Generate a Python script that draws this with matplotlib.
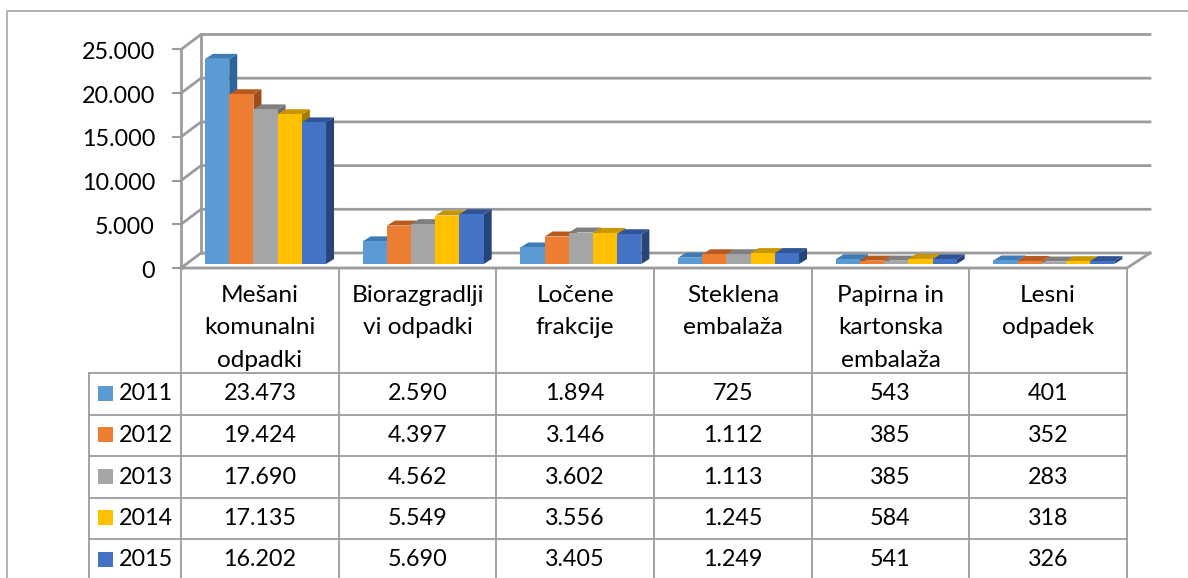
import numpy as np
import matplotlib
matplotlib.use("Agg")
import matplotlib.pyplot as plt
from matplotlib.patches import Rectangle

plt.rcParams['font.family'] = ['Lato', 'DejaVu Sans']

# Data
categories = ['Mešani\nkomunalni\nodpadki', 'Biorazgradlji\nvi odpadki', 'Ločene\nfrakcije',
              'Steklena\nembalaža', 'Papirna in\nkartonska\nembalaža', 'Lesni\nodpadek']
years = ['2011', '2012', '2013', '2014', '2015']
v2011 = [23473, 2590, 1894, 725, 543, 401]
v2012 = [19424, 4397, 3146, 1112, 385, 352]
v2013 = [17690, 4562, 3602, 1113, 385, 283]
v2014 = [17135, 5549, 3556, 1245, 584, 318]
v2015 = [16202, 5690, 3405, 1249, 541, 326]
yticks = [0, 5000, 10000, 15000, 20000, 25000]

series = [v2011, v2012, v2013, v2014, v2015]
front = ['#5b9bd5', '#ed7d31', '#a5a5a5', '#ffc000', '#4472c4']
top = ['#3f7cb5', '#b85a1e', '#7f7f7f', '#c79600', '#2f5597']
side = ['#2f6497', '#9c4d1a', '#6e6e6e', '#a67c00', '#264478']
grey = '#9c9c9c'

W, H = 1188, 578
fig = plt.figure(figsize=(W / 100, H / 100), dpi=100)

# axes: x = category index, y = value, placed on the front plane of the chart
x0, x1 = 181, 1127
y0, ytop = 268, 49.5
ax = fig.add_axes([x0 / W, 1 - y0 / H, (x1 - x0) / W, (y0 - ytop) / H])
ax.set_xlim(0, 6)
ax.set_ylim(0, 25000)
ax.axis('off')

px = 6 / (x1 - x0)               # one pixel in category units
py = 25000 / (y0 - ytop)         # one pixel in value units
depth_x, depth_y = 20 * px, 15 * py
right_x = 6 + 23 * px

# back wall and floor
for t in yticks:
    ax.plot([0, depth_x, right_x], [t, t + depth_y, t + depth_y], color=grey, lw=2,
            clip_on=False, solid_joinstyle='miter')
    ax.plot([-8 * px, 0], [t, t], color=grey, lw=1.5, clip_on=False)
ax.plot([0, 6, right_x], [0, 0, depth_y], color=grey, lw=2, clip_on=False)
ax.plot([0, 0], [0, 25000], color=grey, lw=2, clip_on=False)
ax.plot([depth_x, depth_x], [depth_y, 25000 + depth_y], color=grey, lw=2, clip_on=False)

for t in yticks:
    ax.text(-26 * px, t - 3 * py, f'{t:,}'.replace(',', '.'), ha='right', va='center',
            fontsize=16.8, color='black', clip_on=False)

# 3D columns, sitting slightly behind the front edge
bar_w = 24.2 * px
lift_x, lift_y = 5.7 * px, 4 * py
side_x, side_y = 8 * px, 5 * py
for c in range(len(categories)):
    for s in range(len(series)):
        v = series[s][c]
        left = c + 0.5 - 2.5 * bar_w + s * bar_w + lift_x
        right = left + bar_w
        ax.fill([right, right + side_x, right + side_x, right],
                [lift_y, lift_y + side_y, lift_y + side_y + v, lift_y + v],
                color=side[s], lw=0, zorder=3 + s)
        ax.fill([left, left + side_x, right + side_x, right],
                [lift_y + v, lift_y + side_y + v, lift_y + side_y + v, lift_y + v],
                color=top[s], lw=0, zorder=3 + s)
        ax.bar(left, v, width=bar_w, bottom=lift_y, align='edge', color=front[s], lw=0,
               zorder=3 + s)

# data table under the chart, on a full-figure pixel axes
tab = fig.add_axes([0, 0, 1, 1], facecolor='none')
tab.set_xlim(0, W)
tab.set_ylim(H, 0)
tab.axis('off')

col_x = [x0 + i * (x1 - x0) / 6 for i in range(7)]
row_y = [373, 415, 456, 498, 539, 581]
lab_x = 89

tab.plot([7, 7, W], [H, 11, 11], color='#a6a6a6', lw=1.2)

tab.plot([col_x[0], col_x[-1]], [268, 268], color=grey, lw=1.5)
for x in col_x:
    tab.plot([x, x], [268, H], color=grey, lw=1.3)
tab.plot([lab_x, lab_x], [row_y[0], H], color=grey, lw=1.3)
for y in row_y[:-1]:
    tab.plot([lab_x, col_x[-1]], [y, y], color=grey, lw=1.3)

line_h = 32.5
for i, name in enumerate(categories):
    xc = (col_x[i] + col_x[i + 1]) / 2
    for j, part in enumerate(name.split('\n')):
        tab.text(xc, 295.5 + j * line_h, part, ha='center', va='center', fontsize=17.6)

for r, year in enumerate(years):
    yc = (row_y[r] + row_y[r + 1]) / 2
    tab.add_patch(Rectangle((98, yc - 8.5), 15, 15, color=front[r], lw=0))
    tab.text(119, yc, year, ha='left', va='center', fontsize=16.8)
    for c in range(len(categories)):
        xc = (col_x[c] + col_x[c + 1]) / 2
        tab.text(xc, yc, f'{series[r][c]:,}'.replace(',', '.'), ha='center', va='center',
                 fontsize=16.8)

fig.savefig('out.png', dpi=100)
